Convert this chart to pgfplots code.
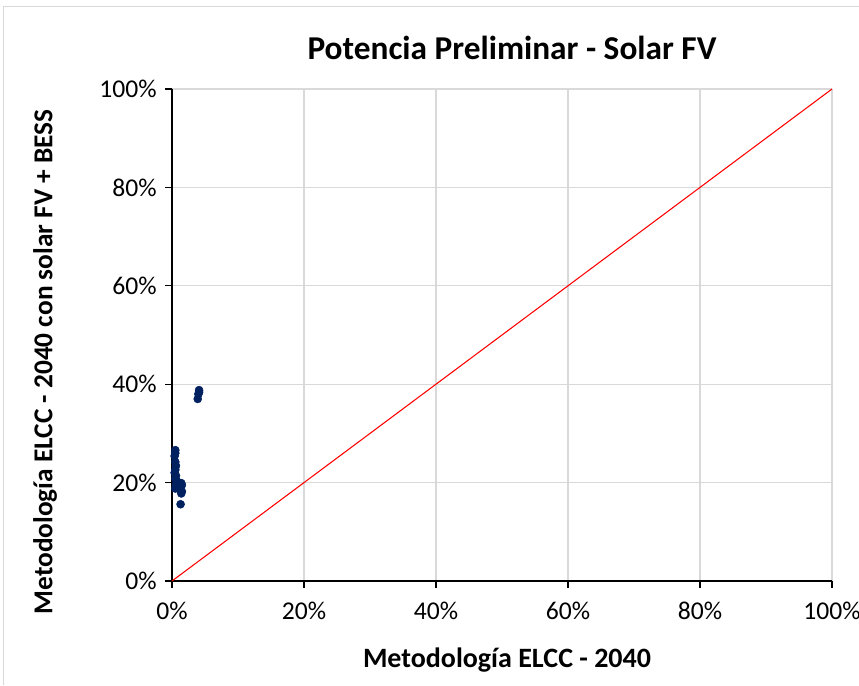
\documentclass[border=0pt]{standalone}
\usepackage{pgfplots}
\pgfplotsset{compat=1.18}
\usepackage{fontspec}
\setmainfont{Carlito}
\definecolor{navy}{RGB}{0,32,96}
\definecolor{gridc}{RGB}{217,217,217}
\begin{document}
\begin{tikzpicture}[x=0.75pt,y=0.75pt]
\path[use as bounding box] (0,0) rectangle (859,685);
\draw[gridc,line width=0.75pt] (3,0) -- (3,678) -- (859,678);
\begin{axis}[
  at={(129pt,78pt)}, anchor=south west,
  scale only axis, width=495pt, height=369pt,
  xmin=0, xmax=100, ymin=0, ymax=100,
  xtick={0,20,...,100}, ytick={0,20,...,100},
  xticklabel={\pgfmathprintnumber{\tick}\%},
  yticklabel={\pgfmathprintnumber{\tick}\%},
  /pgf/number format/assume math mode=true,
  ticklabel style={font=\fontsize{19.2}{21}\selectfont},
  axis x line*=bottom, axis y line*=left,
  axis line style={black, line width=0.9pt},
  tick style={black, line width=0.9pt},
  tick align=outside, major tick length=5pt,
  grid=major, grid style={gridc, line width=0.9pt},
  xticklabel style={yshift=-7pt},
  yticklabel style={xshift=-3pt},
  clip=false,
]
\addplot[red, line width=0.8pt] coordinates {(0,0) (100,100)};
\addplot[only marks, mark=*, mark size=3pt, color=navy] coordinates {
(4.1,38.8) (4.1,38.4) (4.0,38.0) (3.9,37.0)
(0.5,26.6) (0.5,26.0) (0.4,25.4) (0.5,24.2) (0.6,23.4) (0.5,22.6) (0.4,22.0)
(0.6,21.4) (0.5,20.8) (0.7,20.4) (1.0,20.0) (1.4,19.9) (1.5,19.5) (1.3,19.2)
(0.6,19.6) (0.8,19.0) (1.2,18.6) (1.5,18.2) (0.5,18.8) (1.4,17.8) (1.3,15.6)
};
\end{axis}
\node[font=\fontsize{25}{28}\selectfont\bfseries] at (512,637) {Potencia Preliminar - Solar FV};
\node[font=\fontsize{21}{24}\selectfont\bfseries] at (507,25) {Metodología ELCC - 2040};
\node[font=\fontsize{20.5}{24}\selectfont\bfseries, rotate=90] at (45,323) {Metodología ELCC - 2040 con solar FV + BESS};
\end{tikzpicture}
\end{document}
